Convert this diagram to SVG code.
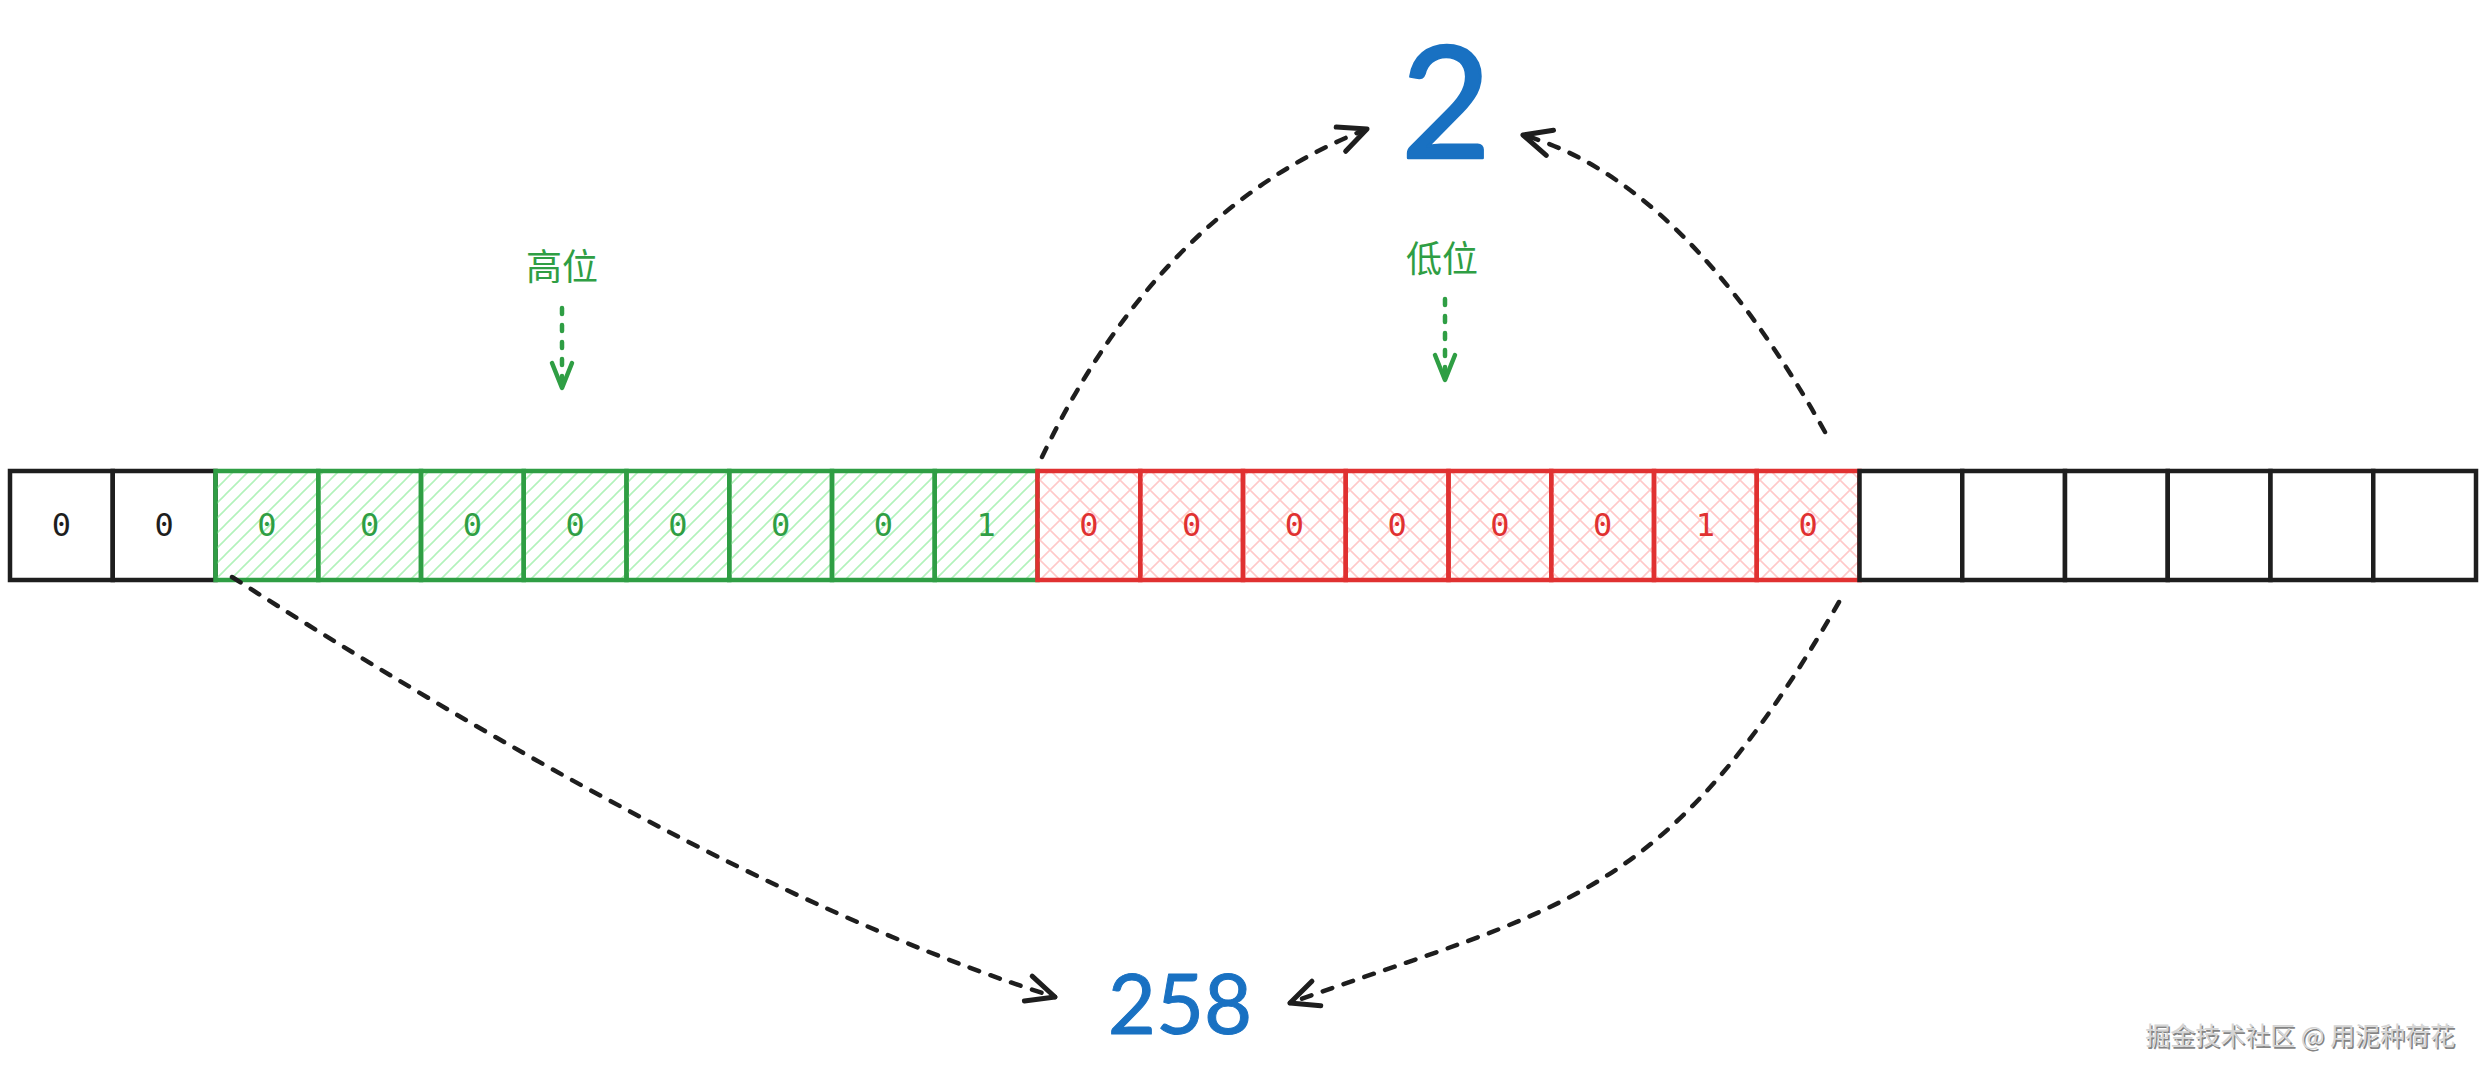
<svg xmlns="http://www.w3.org/2000/svg" width="2485" height="1076" viewBox="0 0 2485 1076">
  <defs>
    <pattern id="hatchG" patternUnits="userSpaceOnUse" width="15" height="15">
      <path d="M-2,2 L2,-2 M0,15 L15,0 M13,17 L17,13" stroke="#b2f2bb" stroke-width="1.6"/>
    </pattern>
    <pattern id="hatchR" patternUnits="userSpaceOnUse" width="20" height="20">
      <path d="M-2,2 L2,-2 M0,20 L20,0 M18,22 L22,18 M-2,18 L2,22 M0,0 L20,20 M18,-2 L22,2" stroke="#ffc9c9" stroke-width="1.6"/>
    </pattern>
    <marker id="arrowK" markerUnits="userSpaceOnUse" markerWidth="40" markerHeight="40" viewBox="-34 -20 40 40" refX="0" refY="0" orient="auto">
      <path d="M-28,-13 L0,0 L-28,13" fill="none" stroke="#1e1e1e" stroke-width="5" stroke-linecap="round" stroke-linejoin="round"/>
    </marker>
    <marker id="arrowG" markerUnits="userSpaceOnUse" markerWidth="40" markerHeight="40" viewBox="-34 -20 40 40" refX="0" refY="0" orient="auto">
      <path d="M-25,-10 L0,0 L-25,10" fill="none" stroke="#2f9e44" stroke-width="4.5" stroke-linecap="round" stroke-linejoin="round"/>
    </marker>
  </defs>
  <style>
    .cellK { fill: #ffffff; stroke: #1e1e1e; stroke-width: 4.5; }
    .cellG { fill: url(#hatchG); stroke: #2f9e44; stroke-width: 4.5; }
    .cellR { fill: url(#hatchR); stroke: #e03131; stroke-width: 4.5; }
    .dig { font-family: "DejaVu Sans Mono", "Liberation Mono", monospace; font-size: 32px; text-anchor: middle; }
    .dK { fill: #1e1e1e; }
    .dG { fill: #2f9e44; }
    .dR { fill: #e03131; }
    .lbl { font-family: "Noto Sans CJK SC", "Noto Sans", sans-serif; font-size: 36px; fill: #2f9e44; text-anchor: middle; }
    .big { font-family: Lato, "Liberation Sans", sans-serif; font-weight: 400; fill: #1971c2; stroke: #1971c2; stroke-linejoin: round; text-anchor: middle; }
    .conn { fill: none; stroke: #1e1e1e; stroke-width: 4.5; stroke-dasharray: 10 12; stroke-linecap: round; }
    .connG { fill: none; stroke: #2f9e44; stroke-width: 4.5; stroke-dasharray: 6 11; stroke-linecap: round; }
    .wm { font-family: "Noto Sans CJK SC", "Noto Sans", sans-serif; font-size: 25px; text-anchor: end; }
  </style>
  <rect x="0" y="0" width="2485" height="1076" fill="#ffffff"/>

  <g id="cells-black-left">
    <g id="cell0"><rect class="cellK" x="10" y="471" width="102.75" height="109"/><text class="dig dK" x="61.4" y="536">0</text></g>
    <g id="cell1"><rect class="cellK" x="112.75" y="471" width="102.75" height="109"/><text class="dig dK" x="164.1" y="536">0</text></g>
  </g>
  <g id="cells-green">
    <g id="cell2"><rect class="cellG" x="215.5" y="471" width="102.75" height="109"/><text class="dig dG" x="266.9" y="536">0</text></g>
    <g id="cell3"><rect class="cellG" x="318.25" y="471" width="102.75" height="109"/><text class="dig dG" x="369.6" y="536">0</text></g>
    <g id="cell4"><rect class="cellG" x="421" y="471" width="102.75" height="109"/><text class="dig dG" x="472.4" y="536">0</text></g>
    <g id="cell5"><rect class="cellG" x="523.75" y="471" width="102.75" height="109"/><text class="dig dG" x="575.1" y="536">0</text></g>
    <g id="cell6"><rect class="cellG" x="626.5" y="471" width="102.75" height="109"/><text class="dig dG" x="677.9" y="536">0</text></g>
    <g id="cell7"><rect class="cellG" x="729.25" y="471" width="102.75" height="109"/><text class="dig dG" x="780.6" y="536">0</text></g>
    <g id="cell8"><rect class="cellG" x="832" y="471" width="102.75" height="109"/><text class="dig dG" x="883.4" y="536">0</text></g>
    <g id="cell9"><rect class="cellG" x="934.75" y="471" width="102.75" height="109"/><text class="dig dG" x="986.1" y="536">1</text></g>
  </g>
  <g id="cells-red">
    <g id="cell10"><rect class="cellR" x="1037.5" y="471" width="102.75" height="109"/><text class="dig dR" x="1088.9" y="536">0</text></g>
    <g id="cell11"><rect class="cellR" x="1140.25" y="471" width="102.75" height="109"/><text class="dig dR" x="1191.6" y="536">0</text></g>
    <g id="cell12"><rect class="cellR" x="1243" y="471" width="102.75" height="109"/><text class="dig dR" x="1294.4" y="536">0</text></g>
    <g id="cell13"><rect class="cellR" x="1345.75" y="471" width="102.75" height="109"/><text class="dig dR" x="1397.1" y="536">0</text></g>
    <g id="cell14"><rect class="cellR" x="1448.5" y="471" width="102.75" height="109"/><text class="dig dR" x="1499.9" y="536">0</text></g>
    <g id="cell15"><rect class="cellR" x="1551.25" y="471" width="102.75" height="109"/><text class="dig dR" x="1602.6" y="536">0</text></g>
    <g id="cell16"><rect class="cellR" x="1654" y="471" width="102.75" height="109"/><text class="dig dR" x="1705.4" y="536">1</text></g>
    <g id="cell17"><rect class="cellR" x="1756.75" y="471" width="102.75" height="109"/><text class="dig dR" x="1808.1" y="536">0</text></g>
  </g>
  <g id="cells-black-right">
    <g id="cell18"><rect class="cellK" x="1859.5" y="471" width="102.75" height="109"/></g>
    <g id="cell19"><rect class="cellK" x="1962.25" y="471" width="102.75" height="109"/></g>
    <g id="cell20"><rect class="cellK" x="2065" y="471" width="102.75" height="109"/></g>
    <g id="cell21"><rect class="cellK" x="2167.75" y="471" width="102.75" height="109"/></g>
    <g id="cell22"><rect class="cellK" x="2270.5" y="471" width="102.75" height="109"/></g>
    <g id="cell23"><rect class="cellK" x="2373.25" y="471" width="102.75" height="109"/></g>
  </g>

  <g id="label-high"><text class="lbl" x="562" y="280">高位</text></g>
  <g id="label-low"><text class="lbl" x="1442" y="272">低位</text></g>
  <g id="value-2"><text class="big" x="1446" y="158" font-size="156" stroke-width="2.5">2</text></g>
  <g id="value-258"><text class="big" x="1180" y="1034" font-size="83" stroke-width="1">258</text></g>

  <g id="connectors">
    <path class="connG" d="M562,308 L562,388" marker-end="url(#arrowG)"/>
    <path class="connG" d="M1445,299 L1445,380" marker-end="url(#arrowG)"/>
    <path class="conn" d="M1042,457 Q1160,210 1367,129" marker-end="url(#arrowK)"/>
    <path class="conn" d="M1825,432 Q1685,182 1523,135" marker-end="url(#arrowK)"/>
    <path class="conn" d="M232,577 Q730,895 1055,997" marker-end="url(#arrowK)"/>
    <path class="conn" d="M1839,602 C1664,906 1559,906 1290,1003" marker-end="url(#arrowK)"/>
  </g>

  <g id="watermark">
    <text class="wm" x="2456.5" y="1046.5" fill="#666666" opacity="0.8">掘金技术社区 @ 用泥种荷花</text>
    <text class="wm" x="2455" y="1045" fill="#d4d4d4">掘金技术社区 @ 用泥种荷花</text>
  </g>
</svg>
